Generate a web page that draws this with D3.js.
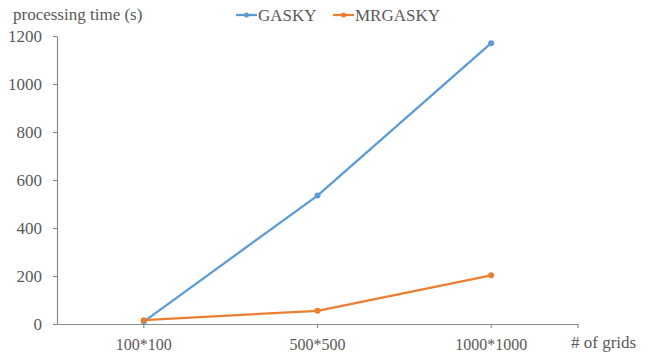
<!DOCTYPE html>
<html><head><meta charset="utf-8">
<script src="https://cdn.jsdelivr.net/npm/d3@7"></script>
<style>body{margin:0;background:#fff}svg{display:block}svg text{font-family:"Liberation Serif","Times New Roman",Times,serif !important;fill:#595959}</style>
</head><body><svg id="c" width="661" height="358"></svg>
<script>
const categories = ["100*100", "500*500", "1000*1000"];
const gasky = [10, 535, 1170];
const mrgasky = [16, 55, 203];
const yTicks = [0, 200, 400, 600, 800, 1000, 1200];
const seriesNames = ["GASKY", "MRGASKY"];
const colors = ["#5B9BD5", "#ED7D31"];

const svg = d3.select("#c");
const x = d3.scaleBand().domain(categories).range([57, 578]);
const y = d3.scaleLinear().domain([0, 1200]).range([324, 36]);
const axisColor = "#8c8c8c";

// y axis
const ya = svg.append("g").attr("transform", "translate(57,0)")
  .call(d3.axisLeft(y).tickValues(yTicks).tickFormat(d3.format("d")).tickSize(4).tickSizeOuter(0).tickPadding(11));
ya.attr("font-family", null).attr("font-size", null);
ya.selectAll("text").style("font-size", "17px").attr("fill", "#595959");
ya.selectAll("line,path").attr("stroke", axisColor).attr("stroke-width", 1.2);

// x axis
const xa = svg.append("g").attr("transform", "translate(0,324)")
  .call(d3.axisBottom(x).tickSize(4).tickSizeOuter(0).tickPadding(11));
xa.attr("font-family", null).attr("font-size", null);
xa.selectAll("text").style("font-size", "16px").attr("fill", "#595959");
xa.selectAll("line,path").attr("stroke", axisColor).attr("stroke-width", 1.2);
xa.append("line").attr("x1", x.range()[1]).attr("x2", x.range()[1]).attr("y1", 0).attr("y2", 4).attr("stroke", axisColor).attr("stroke-width", 1.2);

const cx = d => x(d) + x.bandwidth() / 2;
[gasky, mrgasky].forEach((vals, i) => {
  const pts = categories.map((c, j) => [cx(c), y(vals[j])]);
  svg.append("path").attr("d", d3.line()(pts)).attr("fill", "none")
    .attr("stroke", colors[i]).attr("stroke-width", 2.25);
  svg.selectAll(null).data(pts).enter().append("circle")
    .attr("cx", d => d[0]).attr("cy", d => d[1]).attr("r", 3).attr("fill", colors[i]);
});

// titles
svg.append("text").attr("x", 13).attr("y", 20).style("font-size", "17px").text("processing time (s)");
svg.append("text").attr("x", 571).attr("y", 348).style("font-size", "17px").text("# of grids");

// legend
const lx = [236, 333];
seriesNames.forEach((n, i) => {
  const g = svg.append("g").attr("transform", `translate(${lx[i]},15)`);
  g.append("line").attr("x1", 0).attr("x2", 21).attr("stroke", colors[i]).attr("stroke-width", 2.25);
  g.append("circle").attr("cx", 10.5).attr("r", 2.5).attr("fill", colors[i]);
  g.append("text").attr("x", 22).attr("y", 6).style("font-size", "17px").text(n);
});
</script></body></html>
